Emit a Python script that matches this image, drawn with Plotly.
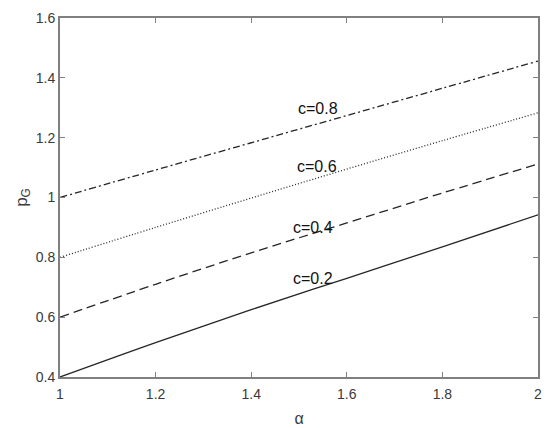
import plotly.graph_objects as go

# alpha values and p_G for each c
alpha = [1.0, 1.2, 1.4, 1.6, 1.8, 2.0]
p_c02 = [0.40, 0.515, 0.625, 0.730, 0.835, 0.942]
p_c04 = [0.60, 0.710, 0.815, 0.915, 1.015, 1.112]
p_c06 = [0.80, 0.900, 0.998, 1.095, 1.190, 1.283]
p_c08 = [1.00, 1.092, 1.183, 1.274, 1.365, 1.456]

labels = ["c=0.2", "c=0.4", "c=0.6", "c=0.8"]
label_x = [1.53, 1.53, 1.537, 1.54]
label_y = [0.728, 0.900, 1.103, 1.296]

x_ticks = [1, 1.2, 1.4, 1.6, 1.8, 2]
y_ticks = [0.4, 0.6, 0.8, 1, 1.2, 1.4, 1.6]

line_col = "#262626"
axis_col = "#808080"
font_family = "Liberation Sans, Arial, sans-serif"

fig = go.Figure()

series = [
    (p_c02, "solid"),
    (p_c04, "9px,5px"),
    (p_c06, "1px,2px"),
    (p_c08, "7px,3px,2px,3px"),
]
for ys, dash in series:
    fig.add_trace(
        go.Scatter(
            x=alpha,
            y=ys,
            mode="lines",
            line=dict(color=line_col, width=1.3, dash=dash, shape="spline"),
            showlegend=False,
        )
    )

for txt, lx, ly in zip(labels, label_x, label_y):
    fig.add_annotation(
        x=lx,
        y=ly,
        text=txt,
        showarrow=False,
        font=dict(size=16, color="#111111", family=font_family),
        xanchor="center",
        yanchor="middle",
    )

axis_common = dict(
    automargin=False,
    showgrid=False,
    zeroline=False,
    showline=True,
    linecolor=axis_col,
    linewidth=2,
    mirror="ticks",
    ticks="inside",
    ticklen=5,
    tickcolor=axis_col,
    tickwidth=1,
    tickfont=dict(size=14, color="#3a3a3a", family=font_family),
)

# page body has an 8px margin, so the figure is a bit smaller than the window
fig.update_layout(
    width=542,
    height=420,
    margin=dict(l=52, r=12, t=10, b=51, autoexpand=False),
    paper_bgcolor="white",
    plot_bgcolor="white",
    xaxis=dict(
        range=[1, 2],
        tickvals=x_ticks,
        ticktext=["1", "1.2", "1.4", "1.6", "1.8", "2"],
        ticklabelstandoff=3,
        title=dict(text="α", font=dict(size=16, color="#3a3a3a", family=font_family), standoff=12),
        **axis_common,
    ),
    yaxis=dict(
        range=[0.4, 1.6],
        tickvals=y_ticks,
        ticktext=["0.4", "0.6", "0.8", "1", "1.2", "1.4", "1.6"],
        title=dict(text="p<sub>G</sub>", font=dict(size=17, color="#3a3a3a", family=font_family), standoff=4),
        **axis_common,
    ),
)

fig.write_html("out.html")
